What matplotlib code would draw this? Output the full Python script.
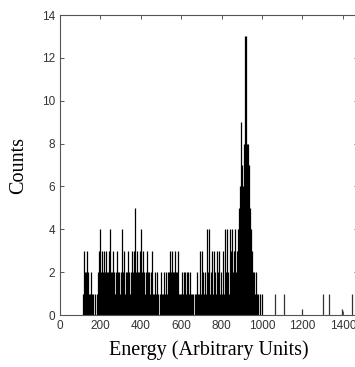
import numpy as np
import matplotlib.pyplot as plt

# histogram bins: left edge energies (5-unit bins) and counts
bin_start = 110
bin_width = 5
counts = [
    1, 3, 2, 2, 3, 2, 1, 1, 2, 1,      # 110-155
    1, 0, 1, 0, 1, 2, 3, 4, 2, 3,      # 160-205
    2, 3, 2, 3, 2, 2, 3, 4, 2, 2,      # 210-255
    3, 2, 1, 2, 3, 2, 2, 1, 2, 4,      # 260-305
    2, 3, 1, 2, 2, 3, 2, 1, 2, 3,      # 310-355
    2, 3, 5, 2, 3, 2, 2, 3, 4, 2,      # 360-405
    3, 2, 1, 2, 3, 2, 2, 1, 2, 3,      # 410-455
    1, 1, 2, 1, 2, 1, 1, 2, 1, 1,      # 460-505
    2, 1, 2, 1, 2, 2, 3, 2, 3, 2,      # 510-555
    2, 3, 2, 2, 3, 1, 1, 1, 2, 1,      # 560-605
    2, 2, 1, 2, 2, 1, 2, 1, 1, 1,      # 610-655
    0, 1, 1, 2, 1, 1, 3, 1, 3, 2,      # 660-705
    1, 2, 1, 4, 2, 4, 1, 2, 3, 1,      # 710-755
    3, 2, 1, 3, 2, 3, 1, 2, 1, 3,      # 760-805
    1, 4, 2, 4, 2, 1, 4, 3, 4, 2,      # 810-855
    3, 4, 2, 3, 4, 5, 6, 9, 7, 6,      # 860-905
    8, 13, 13, 8, 8, 7, 5, 4, 3, 2,    # 910-955
    2, 1, 2, 1, 1, 1, 0, 1, 0, 0,      # 960-1005
]
# isolated events above 1000
outlier_energy = [1063, 1107, 1197, 1301, 1331, 1395, 1445]
outlier_counts = [1, 1, 0.3, 1, 1, 0.3, 1]

energies = bin_start + bin_width * np.arange(len(counts)) + bin_width / 2

fig = plt.figure(figsize=(3.55, 3.67), dpi=100)
ax = fig.add_axes([60 / 355, 52 / 367, 298 / 355, 300 / 367])

ax.vlines(energies, 0, counts, color='black', linewidth=0.9)
ax.vlines(outlier_energy, 0, outlier_counts, color='#333333', linewidth=0.9)

ax.set_xlim(0, 1475)
ax.set_ylim(0, 14)
ax.set_xticks(np.arange(0, 1401, 200))
ax.set_yticks(np.arange(0, 15, 2))

for s in ax.spines.values():
    s.set_color('#555555')
    s.set_linewidth(0.8)

ax.tick_params(direction='in', top=True, right=True, length=3, width=0.7,
               color='#555555', labelsize=8.5, labelcolor='#333333')
for lbl in ax.get_xticklabels() + ax.get_yticklabels():
    lbl.set_family('Liberation Sans')

ax.set_xlabel('Energy (Arbitrary Units)', family='Liberation Serif', fontsize=14.5, labelpad=6)
ax.set_ylabel('Counts', family='Liberation Serif', fontsize=14.5, labelpad=10)

fig.savefig('out.png', dpi=100)
